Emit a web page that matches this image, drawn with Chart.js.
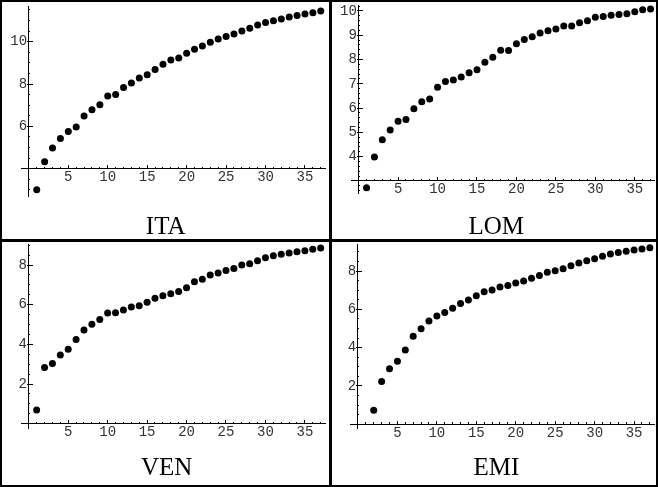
<!DOCTYPE html>
<html><head><meta charset="utf-8">
<script src="https://cdn.jsdelivr.net/npm/chart.js@4.4.1/dist/chart.umd.min.js"></script>
<style>
html,body{margin:0;padding:0;background:#fff;}
#wrap{position:relative;width:658px;height:487px;overflow:hidden;background:#fff;}
#wrap canvas{position:absolute;}
.bd{position:absolute;background:#000;z-index:5;}
.ttl{position:absolute;font-family:"Liberation Serif","Times New Roman",serif;font-size:25px;line-height:25px;text-align:center;width:200px;color:#000;white-space:nowrap;}
</style></head><body>
<div id="wrap">
  <div class="bd" style="left:0;top:0;width:658px;height:2px"></div>
  <div class="bd" style="left:0;top:485px;width:658px;height:2px"></div>
  <div class="bd" style="left:0;top:0;width:2px;height:487px"></div>
  <div class="bd" style="left:656px;top:0;width:2px;height:487px"></div>
  <div class="bd" style="left:329px;top:0;width:3px;height:487px"></div>
  <div class="bd" style="left:0;top:239px;width:658px;height:3px"></div>
</div>
<script>
// ---- data ----
const panelNames = ['ITA', 'LOM', 'VEN', 'EMI'];

const itaX = [1,2,3,4,5,6,7,8,9,10,11,12,13,14,15,16,17,18,19,20,21,22,23,24,25,26,27,28,29,30,31,32,33,34,35,36,37];
const itaY = [3.01,4.33,4.98,5.43,5.76,5.97,6.49,6.79,7.02,7.43,7.50,7.83,8.05,8.28,8.44,8.69,8.93,9.13,9.23,9.45,9.64,9.80,9.97,10.13,10.25,10.36,10.50,10.63,10.79,10.90,10.99,11.07,11.17,11.24,11.31,11.37,11.45];

const lomX = [1,2,3,4,5,6,7,8,9,10,11,12,13,14,15,16,17,18,19,20,21,22,23,24,25,26,27,28,29,30,31,32,33,34,35,36,37];
const lomY = [2.72,3.99,4.70,5.10,5.46,5.53,5.97,6.26,6.38,6.86,7.10,7.16,7.28,7.46,7.58,7.89,8.10,8.38,8.37,8.65,8.83,8.94,9.09,9.19,9.26,9.38,9.38,9.52,9.60,9.74,9.77,9.82,9.86,9.89,9.97,10.05,10.08];

const venX = [1,2,3,4,5,6,7,8,9,10,11,12,13,14,15,16,17,18,19,20,21,22,23,24,25,26,27,28,29,30,31,32,33,34,35,36,37];
const venY = [0.69,2.84,3.04,3.46,3.75,4.25,4.72,5.02,5.26,5.58,5.60,5.73,5.88,5.95,6.13,6.32,6.45,6.55,6.67,6.86,7.16,7.28,7.50,7.60,7.73,7.83,8.00,8.07,8.22,8.37,8.47,8.54,8.61,8.67,8.72,8.79,8.86];

const emiX = [2,3,4,5,6,7,8,9,10,11,12,13,14,15,16,17,18,19,20,21,22,23,24,25,26,27,28,29,30,31,32,33,34,35,36,37];
const emiY = [0.73,2.23,2.90,3.29,3.88,4.59,4.99,5.39,5.65,5.83,6.05,6.31,6.49,6.71,6.92,7.01,7.17,7.25,7.37,7.48,7.62,7.77,7.93,8.02,8.12,8.28,8.42,8.54,8.64,8.77,8.89,8.96,9.03,9.10,9.15,9.22];

// tick labels
const xTickLabels = [5, 10, 15, 20, 25, 30, 35];
const itaYTickLabels = [6, 8, 10];
const lomYTickLabels = [4, 5, 6, 7, 8, 9, 10];
const venYTickLabels = [2, 4, 6, 8];
const emiYTickLabels = [2, 4, 6, 8];

// axis ranges / crossings
const xMin = -0.92, xMax = 37.55;
const yMins = [2.677, 2.493, -0.23, -0.21];
const yMaxs = [11.685, 10.247, 9.06, 9.41];
const yCross = [4, 3, 0, 0];
const yMajorStep = [2, 1, 2, 2];
const yMinorStep = [0.5, 0.2, 0.5, 0.5];
const xMajorStep = 5, xMinorStep = 1;

// ---- layout (page pixels) ----
const areas = [
  {left: 21.6, right: 325.1, top: 6, bottom: 196.7},
  {left: 351.4, right: 654.9, top: 5, bottom: 193.3},
  {left: 21.5, right: 325.0, top: 244, bottom: 428.3},
  {left: 350.7, right: 654.2, top: 244, bottom: 428.3}
];
const titlePos = [
  {cx: 165.7, base: 234.3},
  {cx: 496.3, base: 234.3},
  {cx: 166.7, base: 475},
  {cx: 496.3, base: 475}
];
const yLabelAxisOffset = -0.22; // labelled y axis sits a hair left of the axis line

const series = [[itaX, itaY], [lomX, lomY], [venX, venY], [emiX, emiY]];
const yLabelLists = [itaYTickLabels, lomYTickLabels, venYTickLabels, emiYTickLabels];
const wrap = document.getElementById('wrap');
const M = {l: 20, t: 12, r: 4, b: 26};
const tickFont = {family: "'Liberation Mono', 'DejaVu Sans Mono', monospace", size: 14, lineHeight: 0.8};

panelNames.forEach((name, i) => {
  const a = areas[i];
  const cl = Math.floor(a.left - M.l), ct = Math.floor(a.top - M.t);
  const cr = Math.ceil(a.right + M.r), cb = Math.ceil(a.bottom + M.b);
  const cv = document.createElement('canvas');
  cv.width = cr - cl; cv.height = cb - ct;
  cv.style.left = cl + 'px'; cv.style.top = ct + 'px';
  cv.style.width = (cr - cl) + 'px'; cv.style.height = (cb - ct) + 'px';
  wrap.insertBefore(cv, wrap.firstChild);

  const xs = series[i][0], ys = series[i][1];
  const pts = xs.map((x, k) => ({x: x, y: ys[k]}));
  const yLabs = yLabelLists[i];

  new Chart(cv, {
    type: 'scatter',
    data: {datasets: [{
      label: name, data: pts, pointRadius: 3.5, pointHoverRadius: 3.5,
      pointBackgroundColor: '#000', pointBorderWidth: 0, clip: false
    }]},
    options: {
      responsive: false, animation: false, events: [],
      layout: {padding: {left: a.left - cl, top: a.top - ct, right: cr - a.right, bottom: cb - a.bottom}},
      plugins: {legend: {display: false}, tooltip: {enabled: false}, title: {display: false}},
      scales: {
        x: {
          type: 'linear', min: xMin, max: xMax, position: {y: yCross[i]},
          border: {display: true, color: '#000', width: 1},
          grid: {drawOnChartArea: false, drawTicks: true, tickLength: -4, tickColor: '#000', lineWidth: 1},
          ticks: {stepSize: xMajorStep, includeBounds: false, autoSkip: false, maxRotation: 0, padding: 7,
                  font: tickFont, color: '#333',
                  callback: v => xTickLabels.includes(v) ? String(v) : ''}
        },
        y: {
          type: 'linear', min: yMins[i], max: yMaxs[i], position: {x: yLabelAxisOffset},
          border: {display: false},
          grid: {drawOnChartArea: false, drawTicks: true, tickLength: -6, tickColor: '#000', lineWidth: 1},
          ticks: {stepSize: yMajorStep[i], includeBounds: false, autoSkip: false, padding: 6,
                  font: tickFont, color: '#333',
                  callback: v => yLabs.includes(v) ? String(v) : ''}
        },
        xm: {
          type: 'linear', axis: 'x', min: xMin, max: xMax, position: {y: yCross[i]},
          border: {display: false},
          grid: {drawOnChartArea: false, drawTicks: true, tickLength: -2, tickColor: '#000', lineWidth: 1},
          ticks: {display: false, stepSize: xMinorStep, includeBounds: false, autoSkip: false}
        },
        ym: {
          type: 'linear', axis: 'y', min: yMins[i], max: yMaxs[i], position: {x: 0},
          border: {display: true, color: '#000', width: 1},
          grid: {drawOnChartArea: false, drawTicks: true, tickLength: -2, tickColor: '#000', lineWidth: 1},
          ticks: {display: false, stepSize: yMinorStep[i], includeBounds: false, autoSkip: false}
        }
      }
    }
  });

  const t = document.createElement('div');
  t.className = 'ttl';
  t.textContent = name;
  t.style.left = (titlePos[i].cx - 100) + 'px';
  t.style.top = (titlePos[i].base - 20.9) + 'px';
  wrap.appendChild(t);
});
</script>
</body></html>
